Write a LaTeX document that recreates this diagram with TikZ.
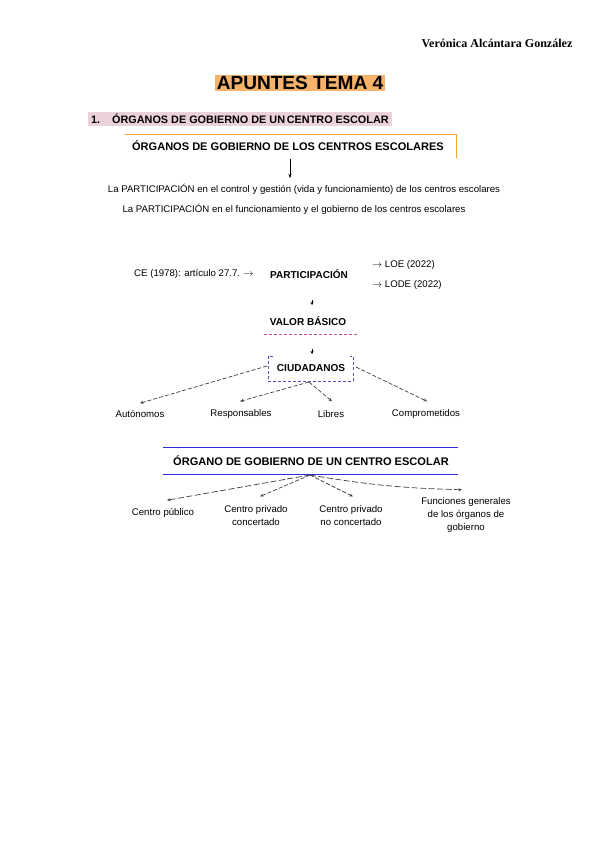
\documentclass[tikz,border=0pt]{standalone}
\usepackage{fontspec}
\setmainfont{Liberation Sans}
\newfontfamily\namefont{Liberation Serif}
\usetikzlibrary{arrows.meta,positioning,calc}
\definecolor{titleorange}{RGB}{246,178,107}
\definecolor{headpink}{RGB}{234,209,220}
\definecolor{lineorange}{RGB}{245,166,40}
\definecolor{dashpink}{RGB}{205,80,150}
\definecolor{boxpurple}{RGB}{95,75,185}
\definecolor{lineblue}{RGB}{45,45,225}

\begin{document}
\begin{tikzpicture}[x=0.035cm, y=-0.035cm,
    txt/.style={inner sep=0pt, font=\fontsize{9.6}{12.5}\selectfont},
    btxt/.style={inner sep=0pt, font=\fontsize{10}{12}\selectfont\bfseries},
    head/.style={inner sep=0pt, font=\fontsize{11}{13}\selectfont\bfseries},
    dasharrow/.style={dash pattern=on 4pt off 2pt, draw=black!75, line width=0.7pt,
      -{Stealth[length=3.5pt,width=3pt]}},
    tinyarrow/.style={-{Stealth[length=3pt,width=3pt]}}]
    % page frame (A4, 600 x 848 px)
    \useasboundingbox[fill=white] (0,0) rectangle (600,848);

    % header and titles
    \node[inner sep=0pt, font=\namefont\fontsize{12}{14}\selectfont\bfseries] (author) at (497, 43)
      {Verónica Alcántara González};
    \node[fill=titleorange, inner sep=1.5pt, font=\fontsize{19}{22}\selectfont\bfseries] (title) at (300, 83)
      {APUNTES TEMA 4};
    \node[fill=headpink, anchor=west, inner xsep=3pt, inner ysep=2pt, font=\fontsize{10.8}{12}\selectfont\bfseries] (sect) at (88, 119)
      {1.\hspace{1.1em}ÓRGANOS DE GOBIERNO DE UN\,CENTRO ESCOLAR};

    % first block
    \node[head] (organos) at (288, 146) {ÓRGANOS DE GOBIERNO DE LOS CENTROS ESCOLARES};
    \draw[lineorange, line width=0.8pt] (125, 134) -- (456, 134) -- (456, 158);
    \node[txt] (part1) at (304, 189)
      {La PARTICIPACIÓN en el control y gestión (vida y funcionamiento) de los centros escolares};
    \node[txt] (part2) at (294, 209)
      {La PARTICIPACIÓN en el funcionamiento y el gobierno de los centros escolares};
    \coordinate (a1) at (290, 159);
    \coordinate (a2) at (290, 178);
    \draw[-{Stealth[length=4pt,width=3pt]}] (a1) -- (a2);

    % participation
    \node[txt] (ce) at (194, 274) {CE (1978): artículo 27.7. $\rightarrow$};
    \node[btxt] (partic) at (309, 274) {PARTICIPACIÓN};
    \node[txt, anchor=west] (loe) at (372, 265) {$\rightarrow$ LOE (2022)};
    \node[txt, anchor=west] (lode) at (372, 285) {$\rightarrow$ LODE (2022)};
    \coordinate (t1) at (312, 300);
    \coordinate (t2) at (312, 305);
    \draw[tinyarrow] (t1) -- (t2);
    \node[btxt] (valor) at (308, 321) {VALOR BÁSICO};
    \draw[dashpink, densely dashed, line width=0.6pt] (264, 334) -- (357, 334);
    \coordinate (t3) at (312, 349);
    \coordinate (t4) at (312, 354);
    \draw[tinyarrow] (t3) -- (t4);

    % ciudadanos
    \node[btxt] (ciud) at (311, 368) {CIUDADANOS};
    \coordinate (bl) at (268, 381);
    \coordinate (br) at (353, 381);
    \draw[boxpurple, densely dashed, line width=0.6pt]
      (273, 356) -- (268, 356) -- (bl) -- (br) -- (353, 356) -- (350, 356);
    \node[txt] (auto) at (140, 414) {Autónomos};
    \node[txt] (resp) at (241, 414) {Responsables};
    \node[txt] (libres) at (331, 414) {Libres};
    \node[txt] (compr) at (426, 414) {Comprometidos};
    \coordinate (cl) at (267, 366);
    \coordinate (cr) at (356, 367);
    \coordinate (cb) at (309, 382);
    \draw[dasharrow] (cl) -- ($(auto.north)+(0,-7)$);
    \draw[dasharrow] (cb) -- ($(resp.north)+(-1,-8)$);
    \draw[dasharrow] (cb) -- ($(libres.north)+(1,-9)$);
    \draw[dasharrow] (cr) -- ($(compr.north)+(1,-8)$);

    % second block
    \draw[lineblue, line width=0.8pt] (163, 447) -- (458, 447);
    \draw[lineblue, line width=0.8pt] (163, 474) -- (458, 474);
    \node[head] (organo) at (311, 461) {ÓRGANO DE GOBIERNO DE UN CENTRO ESCOLAR};
    \coordinate (apex) at (310, 475);
    \node[txt] (publico) at (163, 513) {Centro público};
    \node[txt, align=center] (concert) at (256, 515.5) {Centro privado\\concertado};
    \node[txt, align=center] (noconc) at (351, 515.5) {Centro privado\\no concertado};
    \node[txt, align=center] (func) at (466, 515) {Funciones generales\\de los órganos de\\gobierno};
    \draw[dasharrow, dash pattern=on 6pt off 2.5pt] (apex) -- ($(publico.north)+(4,-8)$);
    \draw[dasharrow] (apex) -- ($(concert.north)+(4,-9)$);
    \draw[dasharrow] (apex) -- ($(noconc.north)+(2,-9)$);
    \draw[dasharrow, dash pattern=on 6pt off 2.5pt] (apex) to[bend right=4] ($(func.north)+(-4,-8)$);
  \end{tikzpicture}
\end{document}
